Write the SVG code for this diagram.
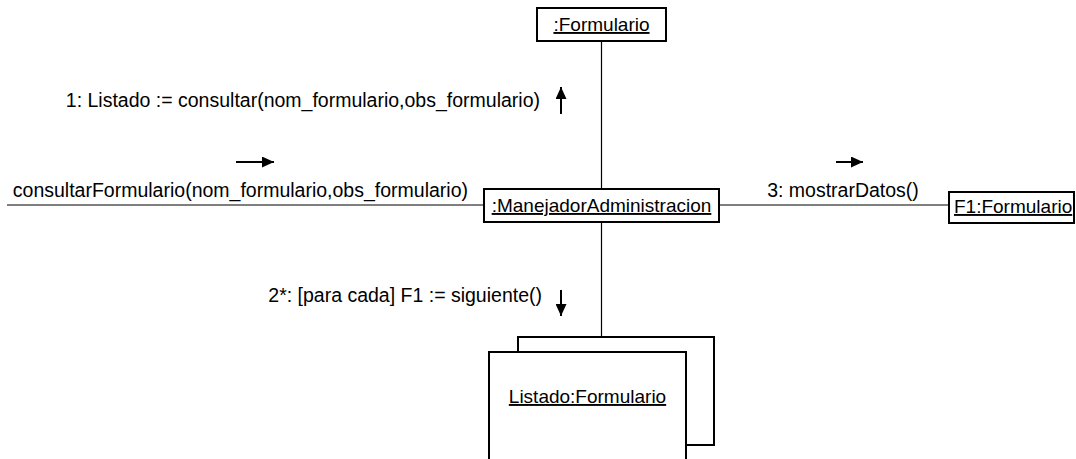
<svg xmlns="http://www.w3.org/2000/svg" width="1076" height="459" viewBox="0 0 1076 459">
  <defs>
    <style>
      .box { fill: #ffffff; stroke: #000000; stroke-width: 2; }
      .ln { stroke: #000000; stroke-width: 1.2; fill: none; }
      .arr { stroke: #000000; stroke-width: 2; fill: none; }
      .t { font-family: "Liberation Sans", Arial, sans-serif; font-size: 19px; fill: #000000; }
      .l { font-size: 19.5px; }
      .u { text-decoration: underline; }
    </style>
    <marker id="ah" viewBox="0 0 12 11" refX="12" refY="5.5" markerUnits="userSpaceOnUse" markerWidth="12" markerHeight="11" orient="auto">
      <path d="M0,0 L12,5.5 L0,11 z" fill="#000000"/>
    </marker>
  </defs>
  <rect width="1076" height="459" fill="#ffffff"/>

  <g id="connectors">
    <line class="ln" x1="601.5" y1="41" x2="601.5" y2="189"/>
    <line class="ln" x1="601.5" y1="222" x2="601.5" y2="336"/>
    <line class="ln" x1="7" y1="205" x2="484" y2="205"/>
    <line class="ln" x1="719" y1="205" x2="949" y2="205"/>
  </g>

  <g id="labels">
    <text class="t l" x="540" y="107" text-anchor="end">1: Listado := consultar(nom_formulario,obs_formulario)</text>
    <line class="arr" x1="561" y1="114" x2="561" y2="87" marker-end="url(#ah)"/>
    <text class="t l" x="468" y="197" text-anchor="end">consultarFormulario(nom_formulario,obs_formulario)</text>
    <line class="arr" x1="236" y1="162" x2="274" y2="162" marker-end="url(#ah)"/>
    <text class="t l" x="843" y="197" text-anchor="middle">3: mostrarDatos()</text>
    <line class="arr" x1="836" y1="162" x2="863" y2="162" marker-end="url(#ah)"/>
    <text class="t l" x="542" y="302" text-anchor="end">2*: [para cada] F1 := siguiente()</text>
    <line class="arr" x1="561" y1="290" x2="561" y2="316" marker-end="url(#ah)"/>
  </g>

  <g id="formulario">
    <rect class="box" x="537" y="8" width="129" height="33"/>
    <text class="t u" x="601.5" y="31" text-anchor="middle">:Formulario</text>
  </g>

  <g id="manejador">
    <rect class="box" x="484" y="189" width="235" height="33"/>
    <text class="t u" x="601.5" y="212" text-anchor="middle">:ManejadorAdministracion</text>
  </g>

  <g id="f1">
    <rect class="box" x="949" y="192" width="125" height="31"/>
    <text class="t u" x="954" y="213">F1:Formulario</text>
  </g>

  <g id="listado">
    <rect class="box" x="518" y="337" width="196" height="108"/>
    <rect class="box" x="489" y="352" width="197" height="120"/>
    <text class="t u" x="587.5" y="403" text-anchor="middle">Listado:Formulario</text>
  </g>
</svg>
